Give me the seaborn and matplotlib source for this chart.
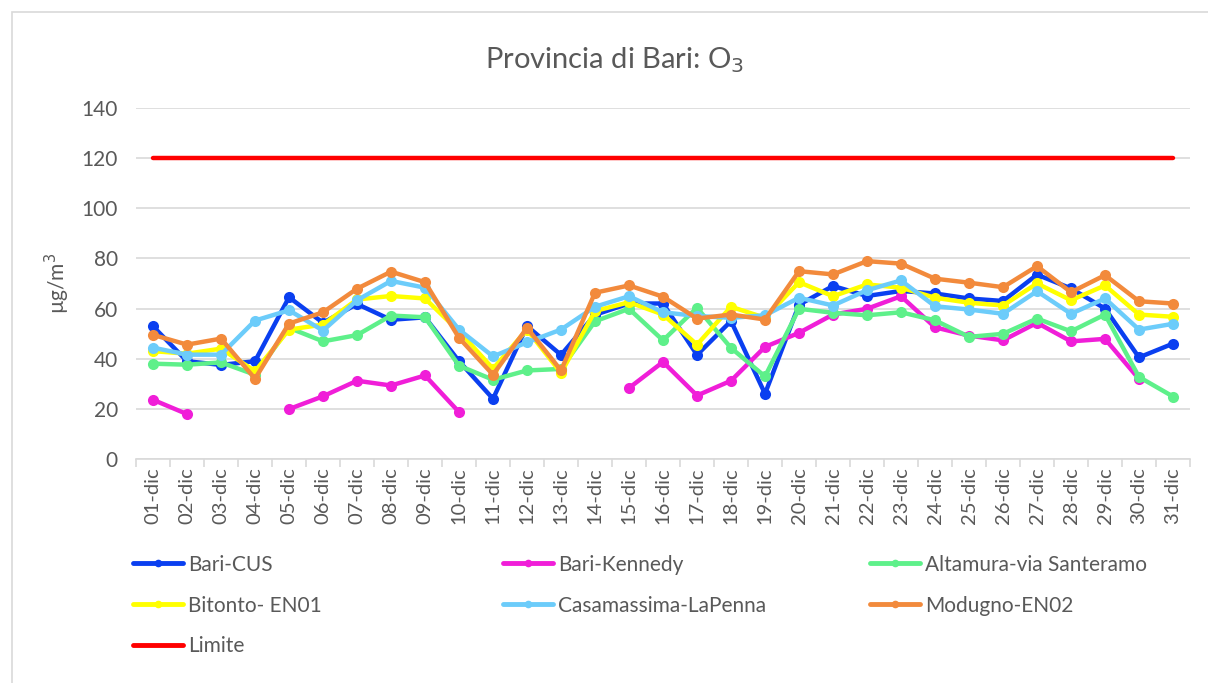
import numpy as np
import pandas as pd
import matplotlib
matplotlib.use("Agg")
import matplotlib.pyplot as plt
from matplotlib.lines import Line2D
from matplotlib.patches import Rectangle
import seaborn as sns

# -----------------------------
# Data (O3, dicembre)
# -----------------------------
nan = np.nan
days = ["%02d-dic" % d for d in range(1, 32)]

bari_cus = [52.9, 39, 37.5, 39, 64.5, 54.3, 61.8, 55.5, 56.5, 39, 24, 53, 41.5, 57.5, 62,
            62, 41.5, 55, 26, 61.5, 69, 65, 67, 66, 64, 63, 73.5, 68, 60, 40.5, 46]
bari_kennedy = [23.6, 17.9, nan, nan, 19.9, 25, 31.2, 29.3, 33.3, 18.7, nan, nan, nan, nan, 28.3,
                38.7, 25.3, 31.2, 44.7, 50.3, 57.6, 59.9, 64.9, 52.5, 49.2, 47.3, 54.3, 46.9, 47.9, 31.9, nan]
altamura = [38, 37.6, 38.5, 33.6, 52.3, 46.9, 49.4, 57.2, 56.5, 37.2, 31.6, 35.3, 35.9, 54.9, 59.9,
            47.3, 60.3, 44.3, 32.9, 59.9, 58.3, 57.3, 58.5, 55.3, 48.7, 49.9, 56, 50.9, 57.6, 32.7, 24.9]
bitonto = [43, 42, 44, 35, 51.6, 53.6, 63.6, 65, 64, 50.9, 36, 51.6, 34.3, 59, 62.5,
           57.6, 45.6, 60.7, 56.3, 70.5, 64.9, 69.6, 68.3, 64.3, 62.3, 61.2, 70, 63.3, 69.2, 57.6, 56.7]
casamassima = [44.4, 41.6, 41.6, 55.2, 59.3, 51.2, 63.3, 71, 68.3, 51.6, 40.9, 46.5, 51.6, 60.7, 64.9,
               58.5, 57, 56.3, 57.3, 64.3, 61.2, 67.3, 71.2, 60.9, 59.6, 57.9, 66.9, 57.9, 64, 51.6, 53.9]
modugno = [49.5, 45.6, 48, 32, 54, 58.5, 67.9, 74.7, 70.5, 48.3, 33.6, 52.3, 35.3, 66.3, 69.2,
           64.7, 56, 57.6, 55.6, 74.9, 73.6, 78.9, 77.9, 71.9, 70.3, 68.5, 76.9, 66.5, 73.3, 62.9, 62]
limite = [120] * 31

series = [
    ("Bari-CUS", bari_cus, "#0a3ff0"),
    ("Bari-Kennedy", bari_kennedy, "#f01ed8"),
    ("Altamura-via Santeramo", altamura, "#5ef08a"),
    ("Bitonto- EN01", bitonto, "#ffff00"),
    ("Casamassima-LaPenna", casamassima, "#6cccfa"),
    ("Modugno-EN02", modugno, "#f28a3c"),
]

# -----------------------------
# Style
# -----------------------------
sns.set_theme(style="white")
plt.rcParams["font.family"] = ["Lato", "DejaVu Sans"]
TXT = "#595959"
GRID = "#d9d9d9"

fig = plt.figure(figsize=(12.08, 6.83), dpi=100)
ax = fig.add_axes([0.1126, 0.328, 0.8725, 0.514])

# outer frame like the excel chart area
fig.patches.append(Rectangle((12 / 1208, -0.1), 1.2, 1 - 12 / 683 + 0.1, transform=fig.transFigure,
                             fill=False, edgecolor=GRID, linewidth=1.2))

x = np.arange(len(days))


def draw_series(vals, color, markers=True):
    """draw contiguous runs so gaps in the data stay open"""
    df = pd.DataFrame({"x": x, "y": vals})
    df["run"] = df["y"].isna().cumsum()
    df = df.dropna()
    for _, seg in df.groupby("run"):
        sns.lineplot(data=seg, x="x", y="y", ax=ax, color=color, linewidth=3.2,
                     marker="o" if markers else None, markersize=8, markeredgewidth=0,
                     estimator=None, sort=False)


for name, vals, col in series:
    draw_series(vals, col)
sns.lineplot(x=x, y=limite, ax=ax, color="#ff0000", linewidth=3.2, estimator=None)

# axes
ax.set_xlim(-0.5, len(days) - 0.5)
ax.set_ylim(0, 140)
ax.set_yticks(range(0, 141, 20))
ax.yaxis.grid(True, color=GRID, linewidth=1.2)
ax.set_axisbelow(True)
for s in ["top", "right", "left"]:
    ax.spines[s].set_visible(False)
ax.spines["bottom"].set_color(GRID)
ax.spines["bottom"].set_linewidth(1.2)

ax.set_xticks(x)
ax.set_xticklabels(days, rotation=90, fontsize=14.5, color=TXT)
ax.set_xticks(np.arange(-0.5, len(days), 1), minor=True)
ax.tick_params(axis="x", which="major", length=0, pad=6)
ax.tick_params(axis="x", which="minor", length=6, color=GRID, width=1.2, bottom=True)
ax.tick_params(axis="y", length=0, labelsize=15, labelcolor=TXT, pad=13)
ax.set_xlabel("")
ax.set_ylabel("µg/m$^3$", fontsize=15, color=TXT, labelpad=7)

fig.text(0.509, 0.912, "Provincia di Bari: O$_3$", ha="center", va="center", fontsize=21, color=TXT)

# legend: three columns placed by hand (row-wise order like excel)
entries = [(n, c, True) for n, _, c in series] + [("Limite", "#ff0000", False)]
col_x = [0.1032, 0.4095, 0.7133]
for ci in range(3):
    items = entries[ci::3]
    handles = [Line2D([], [], color=c, linewidth=3.5, marker="o" if m else None, markersize=5.5,
                      markeredgewidth=0) for _, c, m in items]
    fig.legend(handles, [n for n, _, _ in items], loc="upper left", bbox_to_anchor=(col_x[ci], 0.2),
               frameon=False, fontsize=15, labelcolor=TXT, handlelength=2.4, handletextpad=0.25,
               labelspacing=1.0, borderaxespad=0)

fig.savefig("out.png", dpi=100)
print("Saved: out.png")
